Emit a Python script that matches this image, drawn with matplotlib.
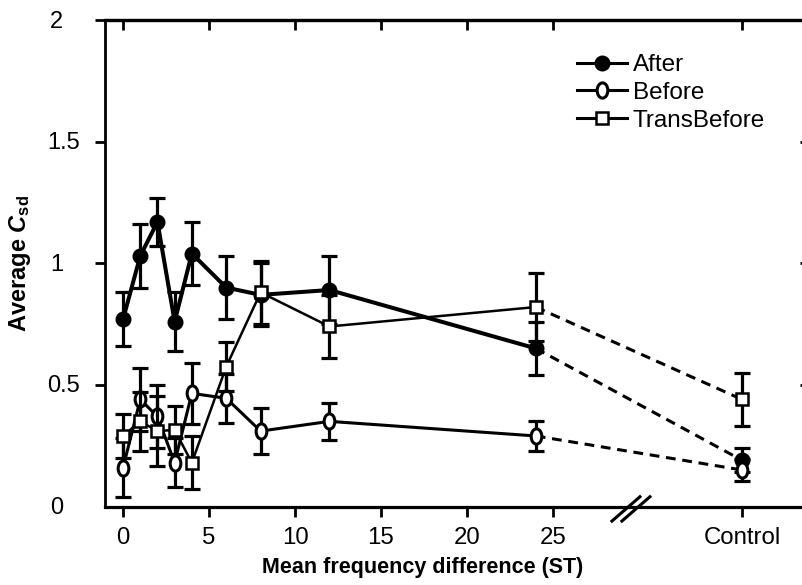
import matplotlib
matplotlib.use('Agg')
import matplotlib.pyplot as plt
import matplotlib.transforms as mtransforms
from matplotlib.path import Path
from matplotlib.lines import Line2D

plt.rcParams['font.family'] = ['Liberation Sans', 'DejaVu Sans']
plt.rcParams['mathtext.fontset'] = 'custom'
plt.rcParams['mathtext.rm'] = 'Liberation Sans:bold'
plt.rcParams['mathtext.it'] = 'Liberation Sans:bold:italic'
plt.rcParams['mathtext.bf'] = 'Liberation Sans:bold'

# ---- data ----
x_numeric = [0, 1, 2, 3, 4, 6, 8, 12, 24]
control_x = 36
x_tick_values = [0, 5, 10, 15, 20, 25, 36]
x_tick_labels = ['0', '5', '10', '15', '20', '25', 'Control']
y_tick_values = [0, 0.5, 1, 1.5, 2]
y_tick_labels = ['0', '0.5', '1', '1.5', '2']

after = [0.77, 1.03, 1.17, 0.76, 1.04, 0.90, 0.87, 0.89, 0.65, 0.19]
after_err = [0.11, 0.13, 0.10, 0.12, 0.13, 0.13, 0.13, 0.14, 0.11, 0.05]
before = [0.16, 0.44, 0.37, 0.18, 0.465, 0.445, 0.31, 0.35, 0.29, 0.15]
before_err = [0.12, 0.13, 0.13, 0.10, 0.125, 0.10, 0.095, 0.075, 0.06, 0.045]
trans = [0.29, 0.35, 0.31, 0.315, 0.18, 0.575, 0.88, 0.74, 0.82, 0.44]
trans_err = [0.09, 0.12, 0.145, 0.10, 0.11, 0.10, 0.13, 0.13, 0.14, 0.11]
series_names = ['After', 'Before', 'TransBefore']

xs = x_numeric + [control_x]

fig = plt.figure(figsize=(8.02, 5.85), dpi=100)
ax = fig.add_axes([105/802, 1-506.5/585, 705/802, 486.5/585])
ax.set_xlim(-1.05, 39.95)
ax.set_ylim(0, 2)

ellipse = Path.unit_circle().transformed(mtransforms.Affine2D().scale(0.7, 1.0))

styles = [
    dict(y=after, e=after_err, marker='o', ms=10, mfc='black', mew=1.5, lw=2.9),
    dict(y=before, e=before_err, marker=ellipse, ms=11, mfc='white', mew=2.2, lw=2.2),
    dict(y=trans, e=trans_err, marker='s', ms=8, mfc='white', mew=1.8, lw=1.8),
]

handles = []
for i, (st, name) in enumerate(zip(styles, series_names)):
    z = 3 + i * 3
    ax.errorbar(xs, st['y'], yerr=st['e'], fmt='none', ecolor='black',
                elinewidth=2.3, capsize=6, capthick=2.3, zorder=z)
    ax.plot(xs[:-1], st['y'][:-1], color='black', lw=st['lw'], zorder=z + 1)
    ax.plot(xs[-2:], st['y'][-2:], color='black', lw=2.2, dashes=(3.2, 2.2), zorder=z + 1)
    ax.plot(xs, st['y'], linestyle='none', marker=st['marker'], ms=st['ms'],
            mfc=st['mfc'], mec='black', mew=st['mew'], zorder=z + 2)
    handles.append(Line2D([], [], color='black', lw=2.2, marker=st['marker'],
                          ms=st['ms'], mfc=st['mfc'], mec='black', mew=st['mew']))

# spines
ax.spines['left'].set_linewidth(2.0)
for s in ['bottom', 'top']:
    ax.spines[s].set_linewidth(2.3)
ax.spines['right'].set_visible(False)

# bottom x ticks
ax.set_xticks(x_tick_values)
ax.set_xticklabels(x_tick_labels, fontsize=17.3)
ax.tick_params(axis='x', direction='out', length=7.5, width=2.0, pad=7.5)

# y ticks (left, outward), labels drawn decimal-aligned
ax.set_yticks([0.5, 1, 1.5, 2])
ax.set_yticklabels([])
ax.tick_params(axis='y', direction='out', length=7.5, width=2.0)
for v, lab in zip(y_tick_values, y_tick_labels):
    dx = -0.25 if '.' in lab else -0.42
    tr = ax.get_yaxis_transform() + mtransforms.ScaledTranslation(dx, -0.015, fig.dpi_scale_trans)
    ax.text(0, v, lab, transform=tr, ha='right', va='center', fontsize=17)

# top ticks inward
top = ax.secondary_xaxis('top')
top.set_xticks(x_tick_values)
top.set_xticklabels([])
top.tick_params(axis='x', direction='in', length=7.5, width=2.0)
top.spines['top'].set_linewidth(2.3)

# right ticks inward
right = ax.secondary_yaxis('right')
right.set_yticks([0.5, 1, 1.5])
right.set_yticklabels([])
right.tick_params(axis='y', direction='in', length=7.5, width=2.0)
right.spines['right'].set_visible(False)

# axis break marks
for x0, x1 in [(28.43, 30.06), (29.01, 30.64)]:
    ax.plot([x0, x1], [-0.06, 0.04], color='black', lw=2.2, clip_on=False, zorder=20)

ax.set_xlabel('Mean frequency difference (ST)', fontsize=15.5, fontweight='bold')
ax.xaxis.set_label_coords(0.450, -0.103)
ax.set_ylabel(r'Average $C_{\mathrm{sd}}$', fontsize=17, fontweight='bold')
ax.yaxis.set_label_coords(-0.102, 0.5)

leg = ax.legend(handles, series_names, loc='upper left', bbox_to_anchor=(577/802, 1-54/585),
                bbox_transform=fig.transFigure, frameon=False, fontsize=17.5,
                handlelength=2.05, handletextpad=0.25, labelspacing=0.24, borderpad=0,
                borderaxespad=0)

fig.savefig('out.png', dpi=100)
